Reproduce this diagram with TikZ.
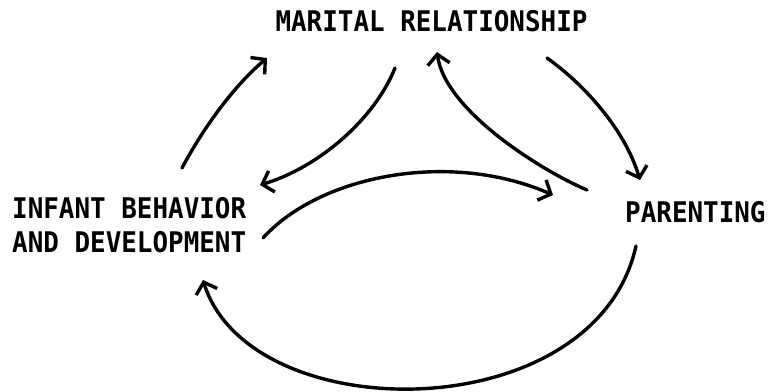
\documentclass[tikz,border=0pt]{standalone}
\usepackage{fontspec}
\setmonofont{DejaVu Sans Mono}
\usetikzlibrary{arrows.meta}
\begin{document}
\begin{tikzpicture}[x=1pt,y=-1pt,
  lbl/.style={inner sep=0pt, font=\ttfamily\bfseries\fontsize{25.4}{30.5}\selectfont, text=black},
  link/.style={line width=3.4pt, line cap=round, -{Straight Barb[length=10pt,width=22pt,line width=3.4pt]}}]
\useasboundingbox (0,0) rectangle (770,391);
\node[lbl] (mar) at (431.5,21) {\scalebox{1.02}[1.12]{MARITAL RELATIONSHIP}};
\node[lbl, anchor=west] (inf) at (12,229) {\scalebox{1.02}[1.12]{\begin{tabular}{@{}l@{}}INFANT BEHAVIOR\\AND DEVELOPMENT\end{tabular}}};
\node[lbl, anchor=west] (par) at (625,212.5) {\scalebox{1.02}[1.12]{PARENTING}};
\coordinate (a1s) at (182,168); \coordinate (a1e) at (267,58);
\coordinate (a2s) at (395,68);  \coordinate (a2e) at (260,185);
\coordinate (a3s) at (587,190); \coordinate (a3e) at (437,52);
\coordinate (a4s) at (263,238); \coordinate (a4e) at (553,195);
\coordinate (a5s) at (547,58);  \coordinate (a5e) at (640,180);
\coordinate (a6s) at (636,246); \coordinate (a6e) at (203,280);
\draw[link] (a1s) .. controls (205,125) and (235,85) .. (a1e);
\draw[link] (a2s) .. controls (375,118) and (320,167) .. (a2e);
\draw[link] (a3s) .. controls (540,170) and (445,110) .. (a3e);
\draw[link] (a4s) .. controls (320,175) and (450,150) .. (a4e);
\draw[link] (a5s) .. controls (585,85) and (625,130) .. (a5e);
\draw[link] (a6s) .. controls (595,430) and (250,430) .. (a6e);
\end{tikzpicture}
\end{document}
